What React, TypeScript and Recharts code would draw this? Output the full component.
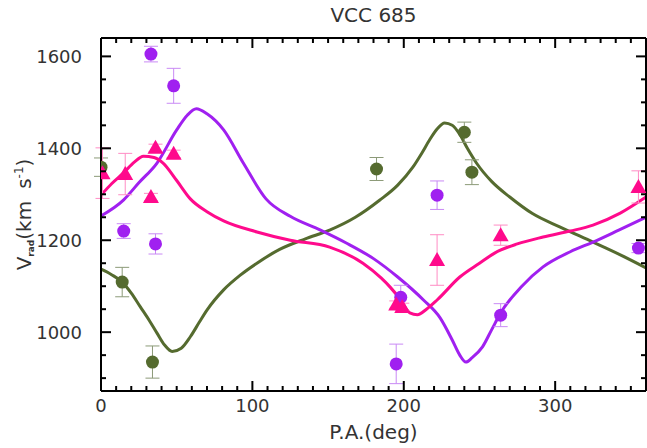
import { ComposedChart, Line, Scatter, XAxis, YAxis, ErrorBar } from 'recharts'

// model curves (P.A. in deg, V in km/s)
const purpleCurvePA = [0, 15, 25, 37, 50, 57, 63, 70, 81, 94, 109, 125, 145, 162, 180, 196, 213, 224, 232, 237, 241, 245, 252, 258, 264, 278, 292, 310, 325, 342, 360]
const purpleCurveV = [1253, 1288, 1325, 1368, 1440, 1472, 1486, 1475, 1440, 1368, 1290, 1252, 1222, 1194, 1160, 1120, 1070, 1031, 983, 950, 935, 944, 968, 1005, 1042, 1100, 1142, 1175, 1196, 1222, 1250]

const pinkCurvePA = [0, 7, 15, 22, 28, 35, 41, 50, 59, 70, 81, 103, 125, 151, 173, 185, 191, 198, 204, 209, 215, 222, 237, 250, 260, 275, 292, 310, 325, 343, 360]
const pinkCurveV = [1298, 1323, 1347, 1370, 1383, 1380, 1368, 1330, 1290, 1262, 1242, 1218, 1200, 1185, 1150, 1118, 1098, 1070, 1042, 1038, 1050, 1070, 1120, 1150, 1172, 1192, 1207, 1220, 1233, 1259, 1294]

const greenCurvePA = [0, 7, 14, 20, 26, 32, 37, 42, 47, 53, 59, 65, 70, 81, 92, 103, 118, 135, 151, 168, 184, 196, 206, 212, 217, 222, 227, 232, 237, 242, 248, 258, 270, 285, 303, 325, 342, 360]
const greenCurveV = [1137, 1125, 1109, 1085, 1055, 1025, 998, 972, 958, 965, 990, 1022, 1048, 1092, 1124, 1150, 1180, 1203, 1222, 1250, 1287, 1320, 1359, 1390, 1418, 1442, 1455, 1450, 1430, 1400, 1368, 1328, 1294, 1258, 1229, 1196, 1170, 1140]

// measured points
const greenPA = [0, 14, 34, 182, 240, 245]
const greenV = [1359, 1109, 935, 1355, 1435, 1348]
const greenErr = [20, 32, 35, 25, 22, 27]

const purplePA = [33, 48, 15, 36, 198, 195, 222, 264, 355]
const purpleV = [1605, 1536, 1220, 1192, 1076, 931, 1298, 1037, 1183]
const purpleErr = [17, 38, 16, 22, 26, 43, 31, 25, 10]

const pinkPA = [1, 16, 36, 48, 33, 195, 199, 222, 264, 355]
const pinkV = [1346, 1344, 1401, 1388, 1294, 1060, 1055, 1157, 1211, 1316]
const pinkErr = [55, 45, 8, 8, 8, 8, 8, 55, 22, 35]

const xMajor = [0, 100, 200, 300]
const yMajor = [1000, 1200, 1400, 1600]
const xTicks = Array.from({ length: 37 }, (_, i) => i * 10)
const yTicks = Array.from({ length: 15 }, (_, i) => 900 + i * 50)

const PURPLE = '#A020F0'
const PINK = '#FF0A8C'
const GREEN = '#556B2F'
const FONT = '"DejaVu Sans", Verdana, sans-serif'
const TEXT = '#333'

const zip = (a: number[], b: number[], e?: number[]) =>
  a.map((x, i) => ({ x, y: b[i], err: e ? e[i] : 0 }))

function BottomTick({ x, y, payload }: any) {
  const major = xMajor.includes(payload.value)
  return (
    <g>
      <line x1={x} x2={x} y1={y} y2={y - (major ? 10 : 5)} stroke="#000" strokeWidth={2} />
      {major && (
        <text x={x} y={y + 21} textAnchor="middle" fontSize={18} fill={TEXT} fontFamily={FONT}>
          {payload.value}
        </text>
      )}
    </g>
  )
}

function TopTick({ x, y, payload }: any) {
  const major = xMajor.includes(payload.value)
  return <line x1={x} x2={x} y1={y} y2={y + (major ? 10 : 5)} stroke="#000" strokeWidth={2} />
}

function LeftTick({ x, y, payload }: any) {
  const major = yMajor.includes(payload.value)
  return (
    <g>
      <line x1={x} x2={x + (major ? 10 : 5)} y1={y} y2={y} stroke="#000" strokeWidth={2} />
      {major && (
        <text x={x - 19} y={y + 7} textAnchor="end" fontSize={18} fill={TEXT} fontFamily={FONT}>
          {payload.value}
        </text>
      )}
    </g>
  )
}

function RightTick({ x, y, payload }: any) {
  const major = yMajor.includes(payload.value)
  return <line x1={x} x2={x - (major ? 10 : 5)} y1={y} y2={y} stroke="#000" strokeWidth={2} />
}

const dotShape = (color: string) => (p: any) => (
  <circle cx={p.cx} cy={p.cy} r={6.5} fill={color} />
)

const triShape = (p: any) => (
  <polygon
    points={`${p.cx - 8},${p.cy + 6} ${p.cx + 8},${p.cy + 6} ${p.cx},${p.cy - 8}`}
    fill={PINK}
  />
)

const axisLine = { stroke: '#000', strokeWidth: 2 }

export default function App() {
  return (
    <div style={{ position: 'absolute', left: 0, top: 0, background: '#fff' }}>
      <ComposedChart width={647} height={448} margin={{ top: 37, right: 0, bottom: 17, left: 41 }}>
        <XAxis
          xAxisId={0}
          type="number"
          dataKey="x"
          domain={[0, 360]}
          allowDataOverflow
          ticks={xTicks}
          interval={0}
          tickSize={0}
          tickMargin={0}
          height={40}
          axisLine={axisLine}
          tickLine={false}
          tick={(p: any) => <BottomTick {...p} />}
          label={{
            content: (p: any) => (
              <text
                x={p.viewBox.x + p.viewBox.width / 2}
                y={p.viewBox.y + 48}
                textAnchor="middle"
                fontSize={20}
                fill={TEXT}
                fontFamily={FONT}
              >
                P.A.(deg)
              </text>
            ),
          }}
        />
        <XAxis
          xAxisId="top"
          orientation="top"
          type="number"
          dataKey="x"
          domain={[0, 360]}
          allowDataOverflow
          ticks={xTicks}
          interval={0}
          tickSize={0}
          tickMargin={0}
          height={1}
          axisLine={axisLine}
          tickLine={false}
          tick={(p: any) => <TopTick {...p} />}
          label={{
            content: (p: any) => (
              <text
                x={p.viewBox.x + p.viewBox.width / 2}
                y={22}
                textAnchor="middle"
                fontSize={20}
                fill={TEXT}
                fontFamily={FONT}
              >
                VCC 685
              </text>
            ),
          }}
        />
        <YAxis
          yAxisId={0}
          type="number"
          dataKey="y"
          domain={[872, 1640]}
          allowDataOverflow
          ticks={yTicks}
          interval={0}
          tickSize={0}
          tickMargin={0}
          width={60}
          axisLine={axisLine}
          tickLine={false}
          tick={(p: any) => <LeftTick {...p} />}
          label={{
            content: (p: any) => {
              const cx = 31
              const cy = p.viewBox.y + p.viewBox.height / 2
              return (
                <text
                  x={cx}
                  y={cy}
                  transform={`rotate(-90, ${cx}, ${cy})`}
                  textAnchor="middle"
                  fontSize={20}
                  fill={TEXT}
                  fontFamily={FONT}
                >
                  V
                  <tspan fontSize={9} fontWeight="bold" dy={3}>rad</tspan>
                  <tspan dy={-3}>(km</tspan>
                  <tspan dx={12}>s</tspan>
                  <tspan fontSize={12} dy={-8}>-1</tspan>
                  <tspan dy={8}>)</tspan>
                </text>
              )
            },
          }}
        />
        <YAxis
          yAxisId="right"
          orientation="right"
          type="number"
          dataKey="y"
          domain={[872, 1640]}
          allowDataOverflow
          ticks={yTicks}
          interval={0}
          tickSize={0}
          tickMargin={0}
          width={1}
          axisLine={axisLine}
          tickLine={false}
          tick={(p: any) => <RightTick {...p} />}
        />

        <Line data={zip(greenCurvePA, greenCurveV)} dataKey="y" type="monotone" stroke={GREEN} strokeWidth={3} dot={false} activeDot={false} isAnimationActive={false} />
        <Line data={zip(purpleCurvePA, purpleCurveV)} dataKey="y" type="monotone" stroke={PURPLE} strokeWidth={3} dot={false} activeDot={false} isAnimationActive={false} />
        <Line data={zip(pinkCurvePA, pinkCurveV)} dataKey="y" type="monotone" stroke={PINK} strokeWidth={3} dot={false} activeDot={false} isAnimationActive={false} />

        <Scatter data={zip(greenPA, greenV, greenErr)} dataKey="y" shape={dotShape(GREEN)} isAnimationActive={false}>
          <ErrorBar dataKey="err" direction="y" width={7} stroke="#8C9A78" strokeWidth={1} />
        </Scatter>
        <Scatter data={zip(purplePA, purpleV, purpleErr)} dataKey="y" shape={dotShape(PURPLE)} isAnimationActive={false}>
          <ErrorBar dataKey="err" direction="y" width={7} stroke="#C98AF5" strokeWidth={1} />
        </Scatter>
        <Scatter data={zip(pinkPA, pinkV, pinkErr)} dataKey="y" shape={triShape} isAnimationActive={false}>
          <ErrorBar dataKey="err" direction="y" width={7} stroke="#FF8CC4" strokeWidth={1} />
        </Scatter>
      </ComposedChart>
    </div>
  )
}
